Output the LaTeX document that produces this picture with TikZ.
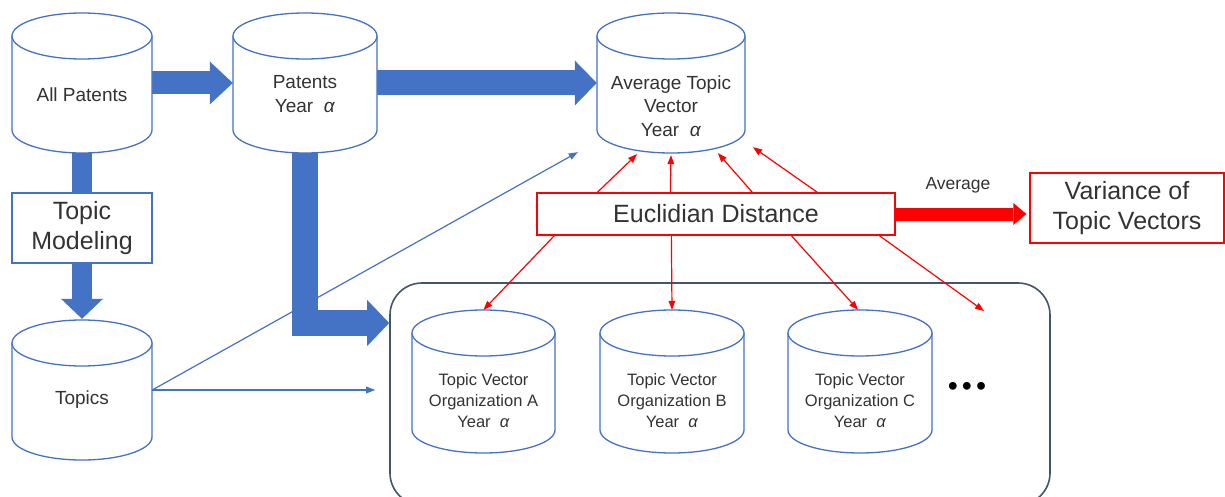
\documentclass[tikz,border=0pt]{standalone}
\usepackage{fontspec}
\setmainfont{Liberation Sans}
\newfontfamily\dejavu{DejaVu Sans}
\usetikzlibrary{arrows.meta,calc,backgrounds}
\definecolor{ofblue}{HTML}{4472C4}
\definecolor{ofred}{HTML}{FF0000}
\definecolor{slate}{HTML}{44546A}
\definecolor{ink}{HTML}{333333}

\newcommand\yr{Year\ \ \textit{α}}

\tikzset{
  cylframe/.style={rectangle,inner sep=0pt,draw=none},
  cylline/.style={draw=ofblue,line width=1.3pt},
  lbl/.style={text=ink,align=center,inner sep=0pt,font=\fontsize{19}{23.5}\selectfont},
  orglbl/.style={text=ink,align=center,inner sep=0pt,font=\fontsize{16.5}{21}\selectfont},
  bigtxt/.style={text=ink,align=center,inner sep=0pt,font=\fontsize{25}{29.5}\selectfont},
  redbox/.style={draw=ofred,line width=1.3pt,fill=white},
  bluebox/.style={draw=ofblue,line width=1.3pt,fill=white},
  thinblue/.style={draw=ofblue,line width=1.2pt,-{Triangle[length=9pt,width=7pt,line width=0pt]}},
  thinred/.style={draw=ofred,line width=1.2pt,-{Triangle[length=9pt,width=7pt,line width=0pt]}},
}

% database cylinder: name, left, right, top, bottom
\newcommand\dbcyl[5]{%
  \pgfmathsetmacro\cyX{(#2+#3)/2}%
  \pgfmathsetmacro\cyR{(#3-#2)/2}%
  \pgfmathsetmacro\cyT{#4+23}%
  \pgfmathsetmacro\cyB{#5-23}%
  \pgfmathsetmacro\cyK{0.5523*\cyR}%
  \pgfmathsetmacro\cyW{#3-#2}%
  \pgfmathsetmacro\cyH{#5-#4}%
  \pgfmathsetmacro\cyM{(#4+#5)/2}%
  \node[cylframe,minimum width=\cyW pt,minimum height=\cyH pt] (#1) at (\cyX,\cyM) {};
  \fill[white] (#2,\cyT) -- (#2,\cyB) .. controls (#2,\cyB+12.7) and (\cyX-\cyK,#5) .. (\cyX,#5)
     .. controls (\cyX+\cyK,#5) and (#3,\cyB+12.7) .. (#3,\cyB) -- (#3,\cyT) -- cycle;
  \draw[cylline] (#2,\cyT) -- (#2,\cyB) .. controls (#2,\cyB+12.7) and (\cyX-\cyK,#5) .. (\cyX,#5)
     .. controls (\cyX+\cyK,#5) and (#3,\cyB+12.7) .. (#3,\cyB) -- (#3,\cyT);
  \filldraw[cylline,fill=white] (\cyX,\cyT) ellipse [x radius=\cyR pt, y radius=23pt];
}

\begin{document}
\begin{tikzpicture}[x=1pt,y=-1pt]
\useasboundingbox (0,0) rectangle (1225,497);
\clip (0,0) rectangle (1225,497);

% frame around the organisation vectors
\node[draw=slate,line width=1.6pt,rounded corners=32pt,minimum width=660pt,
      minimum height=222pt,inner sep=0pt] (orgbox) at (720,394) {};

% databases
\dbcyl{allp}{12}{152}{13}{153}
\dbcyl{py}{233}{377}{13}{153}
\dbcyl{avg}{597}{745}{13}{153}
\dbcyl{topics}{12}{152}{320}{460}
\dbcyl{orgA}{412}{555}{310}{453}
\dbcyl{orgB}{600}{744}{310}{453}
\dbcyl{orgC}{788}{932}{310}{453}

\node[lbl] (allp-t) at (82,95) {All Patents};
\node[lbl] (py-t) at (305,94) {Patents\\\yr};
\node[lbl] (avg-t) at (671,106) {Average Topic\\Vector\\\yr};
\node[lbl] (topics-t) at (82,400) {Topics};
\node[orglbl] (orgA-t) at (483.5,401) {Topic Vector\\Organization A\\\yr};
\node[orglbl] (orgB-t) at (672,401) {Topic Vector\\Organization B\\\yr};
\node[orglbl] (orgC-t) at (860,401) {Topic Vector\\Organization C\\\yr};
\node[text=black,inner sep=0pt,font=\dejavu\bfseries\fontsize{22}{24}\selectfont] (more-t) at (967,388) {•••};
\coordinate (more) at (984,311);

% boxes
\node[bluebox,bigtxt,minimum width=140pt,minimum height=70pt] (tm) at (82,228) {Topic\\Modeling};
\node[redbox,bigtxt,minimum width=358pt,minimum height=42pt] (ed) at (716,214) {Euclidian Distance};
\node[redbox,bigtxt,minimum width=194pt,minimum height=70pt] (var) at (1127,208) {Variance of\\Topic Vectors};
\node[text=ink,inner sep=0pt,font=\fontsize{17.5}{20}\selectfont] (avglbl) at (958,185) {Average};

% connectors
\begin{scope}[on background layer]
  \draw[ofblue,line width=23pt,-{Triangle[length=23pt,width=43pt,line width=0pt]}] (allp.east) -- (py.west);
  \draw[ofblue,line width=25pt,-{Triangle[length=22pt,width=45pt,line width=0pt]}] (py.east) -- (avg.west);
  \draw[ofblue,line width=20pt] (allp.south) -- (tm.north);
  \draw[ofblue,line width=20pt,-{Triangle[length=20pt,width=42pt,line width=0pt]}] (tm.south) -- ([yshift=1pt]topics.north);
  \draw[ofblue,line width=26pt,-{Triangle[length=22pt,width=46pt,line width=0pt]}] (py.south) |- (orgbox.west |- 0,323);
\end{scope}

\draw[thinblue] (topics.east) -- ([xshift=-14pt]orgbox.west |- topics.east);
\draw[thinblue] (topics.east) -- ([xshift=-19pt,yshift=1pt]avg.south west);

\draw[thinred] ($(ed.north west)+(61,0)$) -- ($(avg.south)+(-34,1)$);
\draw[thinred] ($(ed.north west)+(134,0)$) -- ($(avg.south)+(0,2)$);
\draw[thinred] ($(ed.north west)+(216,0)$) -- ($(avg.south)+(47,0)$);
\draw[thinred] ($(ed.north west)+(281,0)$) -- ($(avg.south)+(82,-6)$);

\draw[thinred] ($(ed.south west)+(18,0)$) -- (orgA.north);
\draw[thinred] ($(ed.south west)+(135,0)$) -- (orgB.north);
\draw[thinred] ($(ed.south west)+(255,0)$) -- ($(orgC.north)+(-2,0)$);
\draw[thinred] ($(ed.south west)+(343,0)$) -- (more);

\draw[ofred,line width=13pt,-{Triangle[length=13pt,width=22pt,line width=0pt]}] (ed.east) -- ([xshift=-3pt]ed.east -| var.west);
\end{tikzpicture}
\end{document}
